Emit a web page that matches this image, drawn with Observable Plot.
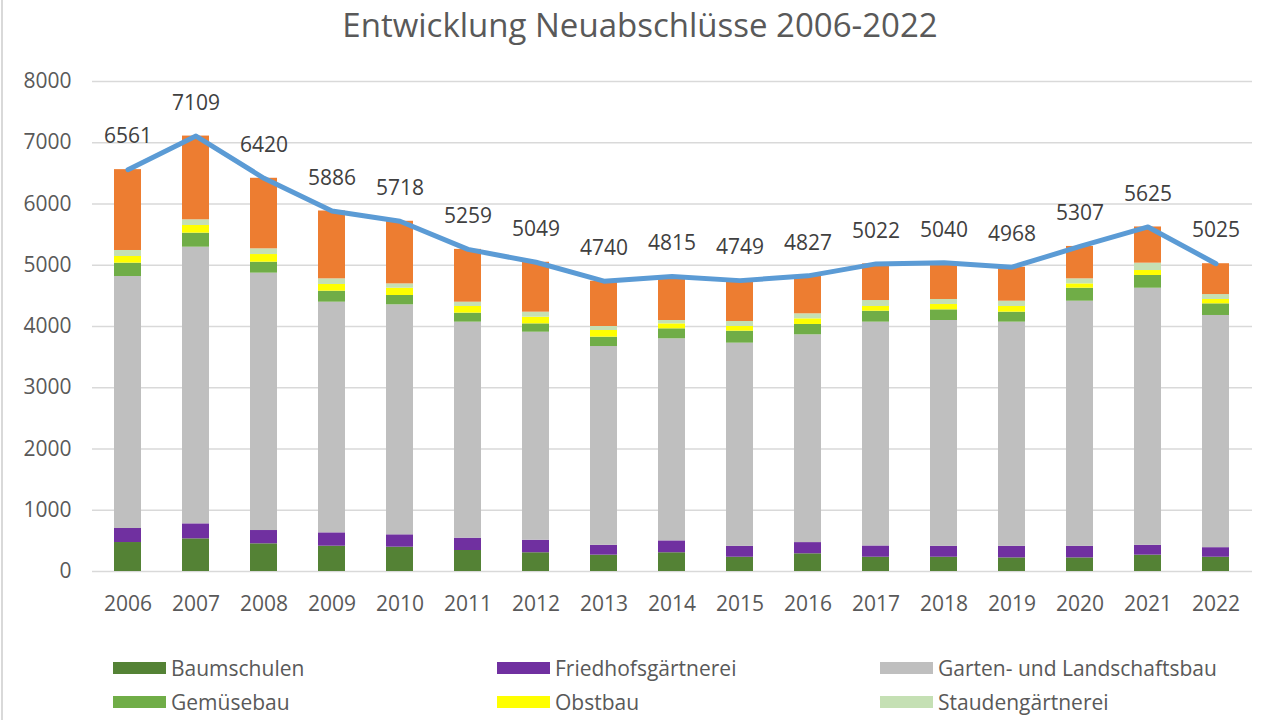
<!DOCTYPE html>
<html>
<head>
<meta charset="utf-8">
<script src="https://cdn.jsdelivr.net/npm/d3@7"></script>
<script src="https://cdn.jsdelivr.net/npm/@observablehq/plot@0.6"></script>
<style>
  html, body { margin: 0; padding: 0; background: #fff; }
  body { width: 1280px; height: 720px; overflow: hidden; font-family: "Open Sans", sans-serif; color: #595959; position: relative; }
  #frame { position: absolute; left: 1px; top: 0; width: 2px; height: 720px; background: #d9d9d9; }
  #title { height: 50px; line-height: 50px; text-align: center; font-size: 33px; color: #595959; }
  #chart svg { display: block; }
  #legend { position: relative; height: 80px; }
  .item { position: absolute; display: flex; align-items: center; font-size: 21px; color: #595959; white-space: nowrap; height: 28px; }
  .sw { width: 53px; height: 12px; margin-right: 5px; }
</style>
</head>
<body>
<div id="frame"></div>
<div id="title">Entwicklung Neuabschlüsse 2006-2022</div>
<div id="chart"></div>
<div id="legend"></div>
<script>
const years = ["2006","2007","2008","2009","2010","2011","2012","2013","2014","2015","2016","2017","2018","2019","2020","2021","2022"];
const series = ["Baumschulen","Friedhofsgärtnerei","Garten- und Landschaftsbau","Gemüsebau","Obstbau","Staudengärtnerei","Zierpflanzenbau"];
const legendSeries = ["Baumschulen","Friedhofsgärtnerei","Garten- und Landschaftsbau","Gemüsebau","Obstbau","Staudengärtnerei"];
const baumschulen   = [473,533,452,413,397,343,306,267,306,233,289,233,233,222,222,267,233];
const friedhof      = [229,245,217,218,202,201,205,161,194,178,183,184,178,189,189,161,156];
const gala          = [4114,4517,4202,3766,3755,3527,3396,3245,3299,3317,3392,3654,3687,3660,4002,4197,3791];
const gemuese       = [218,229,179,180,152,147,136,153,163,196,169,179,174,163,212,208,190];
const obstbau       = [109,125,125,109,119,109,109,109,81,76,92,77,87,93,71,81,71];
const stauden       = [98,93,93,92,71,70,82,65,55,82,82,97,82,86,82,120,81];
const totals        = [6561,7109,6420,5886,5718,5259,5049,4740,4815,4749,4827,5022,5040,4968,5307,5625,5025];
const yTicks        = [0,1000,2000,3000,4000,5000,6000,7000,8000];

const colors = ["#548235","#7030A0","#BFBFBF","#70AD47","#FFFF00","#C5E0B4","#ED7D31"];

// Zierpflanzenbau = remainder up to the labelled total
const zier = totals.map((t, i) => t - baumschulen[i] - friedhof[i] - gala[i] - gemuese[i] - obstbau[i] - stauden[i]);
const seriesValues = [baumschulen, friedhof, gala, gemuese, obstbau, stauden, zier];

const rows = [];
series.forEach((s, si) => {
  years.forEach((y, yi) => rows.push({year: y, series: s, value: seriesValues[si][yi]}));
});
const totalRows = years.map((y, i) => ({year: y, total: totals[i]}));

const chart = Plot.plot({
  width: 1280,
  height: 590,
  marginTop: 31,
  marginBottom: 69,
  marginLeft: 92,
  marginRight: 28,
  style: {fontFamily: "Open Sans, sans-serif", fontSize: "21px", color: "#595959", background: "#fff"},
  x: {domain: years, paddingInner: 0.6, paddingOuter: 0.3, label: null, tickSize: 0, tickPadding: 25},
  y: {domain: [0, 8000], ticks: yTicks, label: null, tickSize: 0, tickPadding: 21, tickFormat: d => String(d)},
  color: {domain: series, range: colors},
  marks: [
    Plot.gridY(yTicks, {stroke: "#d9d9d9", strokeOpacity: 1, strokeWidth: 1.5}),
    Plot.barY(rows, {x: "year", y: "value", fill: "series", order: series}),
    Plot.line(totalRows, {x: "year", y: "total", stroke: "#5B9BD5", strokeWidth: 5, strokeLinejoin: "round", strokeLinecap: "round"}),
    Plot.text(totalRows, {x: "year", y: "total", text: d => String(d.total), dy: -33, fill: "#404040", fontSize: 21})
  ]
});
document.getElementById("chart").appendChild(chart);

// Legend (the reference shows only the first two rows)
const legend = document.getElementById("legend");
const colX = [113, 497, 880];
const rowCenter = [28, 62];
legendSeries.forEach((s, i) => {
  const item = document.createElement("div");
  item.className = "item";
  item.style.left = colX[i % 3] + "px";
  item.style.top = (rowCenter[Math.floor(i / 3)] - 14) + "px";
  const sw = document.createElement("div");
  sw.className = "sw";
  sw.style.background = colors[series.indexOf(s)];
  const tx = document.createElement("span");
  tx.textContent = s;
  item.appendChild(sw);
  item.appendChild(tx);
  legend.appendChild(item);
});
</script>
</body>
</html>
